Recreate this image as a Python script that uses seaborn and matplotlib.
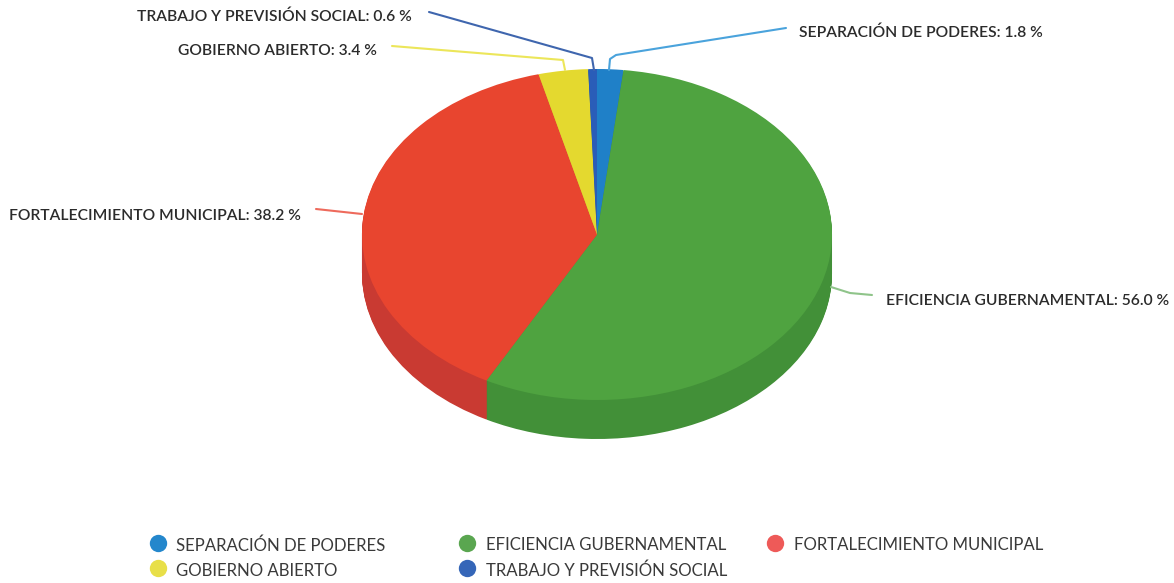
import matplotlib
matplotlib.use("Agg")
import matplotlib.pyplot as plt
import seaborn as sns

W, H = 1174, 583
categories = ["SEPARACIÓN DE PODERES", "EFICIENCIA GUBERNAMENTAL", "FORTALECIMIENTO MUNICIPAL",
              "GOBIERNO ABIERTO", "TRABAJO Y PREVISIÓN SOCIAL"]
values = [1.8, 56.0, 38.2, 3.4, 0.6]
colors = ["#1f80c8", "#4fa340", "#e8452f", "#e4d92f", "#2a5db8"]
side_colors = ["#1a6aa6", "#429038", "#c93a32", "#c0b728", "#234e9a"]
line_colors = ["#4aa3dc", "#8fc48a", "#ee6a5c", "#ece65a", "#3f66ae"]
legend_colors = ["#2487cc", "#5aa650", "#ee5a58", "#e8df48", "#3566b8"]

sns.set_theme(style="white")
plt.rcParams["font.family"] = ["Lato", "DejaVu Sans"]

CX, CY, RX, RY, DEPTH = 597, 234.5, 235, 165.5, 39

fig = plt.figure(figsize=(W / 100, H / 100), dpi=100)
ax = fig.add_axes([0, 0, 1, 1])

def fx(x):
    return x / W

def fy(y):
    return 1 - y / H

# extruded side, then top face
for d in range(DEPTH, 0, -1):
    ax.pie(values, colors=side_colors, startangle=90, counterclock=False, radius=1,
           center=(0, -d / RY), wedgeprops=dict(linewidth=0), frame=False)
ax.pie(values, colors=colors, startangle=90, counterclock=False, radius=1,
       center=(0, 0), wedgeprops=dict(linewidth=0), frame=False)
ax.set_aspect("auto")
ax.set_xlim(-CX / RX, (W - CX) / RX)
ax.set_ylim(-(H - CY) / RY, CY / RY)
ax.axis("off")

# leader lines and callouts (order follows categories)
leaders = [
    [(786, 28), (616, 55), (610, 59), (609, 70)],
    [(831, 287), (850, 293), (872, 295)],
    [(362, 214), (316, 209)],
    [(565, 70), (563, 60), (392, 46)],
    [(594, 70), (592, 58), (429, 12)],
]
callouts = [
    (799, 33, "left"), (886, 301, "left"), (301, 216, "right"), (377, 51, "right"), (412, 17, "right"),
]
for cat, val, lc, pts, (tx, ty, ha) in zip(categories, values, line_colors, leaders, callouts):
    fig.add_artist(plt.Line2D([fx(p[0]) for p in pts], [fy(p[1]) for p in pts],
                              color=lc, lw=1.5, transform=fig.transFigure))
    fig.text(fx(tx), fy(ty), f"{cat}: {val:.1f} %", ha=ha, va="center",
             fontsize=11.25, color="#2b2b2b", fontweight="semibold")

# legend
legend_pos = [(158, 176, 545.5), (467, 486, 545.5), (775, 794, 545.5), (158, 176, 570.5), (467, 486, 570.5)]
for cat, c, (mx, tx, y) in zip(categories, legend_colors, legend_pos):
    fig.add_artist(plt.Line2D([fx(mx)], [fy(y - 3)], marker="o", ms=12.5, mfc=c, mec="none",
                              ls="none", transform=fig.transFigure))
    fig.text(fx(tx), fy(y), cat, ha="left", va="center", fontsize=12.05, color="#3a3a3a")

fig.savefig("out.png", dpi=100, facecolor="white")
